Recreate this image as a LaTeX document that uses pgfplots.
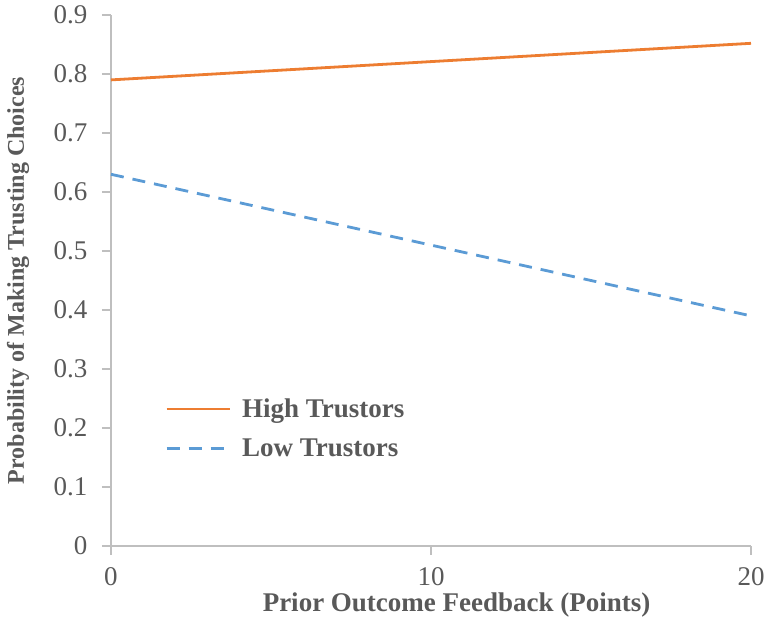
\documentclass[border=0pt]{standalone}
\usepackage{pgfplots}
\pgfplotsset{compat=1.18}
\usepackage{fontspec}
\setmainfont{Liberation Serif}
\definecolor{orangeL}{HTML}{ED7D31}
\definecolor{blueL}{HTML}{5B9BD5}
\definecolor{axgray}{HTML}{BFBFBF}
\definecolor{txtgray}{HTML}{595959}
\begin{document}
\begin{tikzpicture}
\useasboundingbox (-111pt,-90pt) rectangle (657pt,546pt);
\begin{axis}[
  scale only axis, width=640pt, height=531pt,
  xmin=0, xmax=20, ymin=0, ymax=0.9,
  xtick={0,10,20}, ytick={0,0.1,...,0.9},
  yticklabels={0,0.1,0.2,0.3,0.4,0.5,0.6,0.7,0.8,0.9},
  axis x line=bottom, axis y line=left,
  axis line style={draw=axgray, line width=1.5pt, -},
  tick style={draw=axgray, line width=1.5pt},
  major tick length=9pt,
  tick align=outside,
  /pgf/number format/assume math mode=true,
  ticklabel style={font=\fontsize{27}{32}\selectfont, text=txtgray},
  yticklabel style={xshift=-11pt},
  xticklabel style={yshift=-9pt},
  xlabel={\textbf{Prior Outcome Feedback (Points)}},
  ylabel={\textbf{Probability of Making Trusting Choices}},
  xlabel style={font=\fontsize{27}{32}\selectfont, text=txtgray, at={(axis description cs:0.54,0)}, anchor=center, yshift=-59pt},
  ylabel style={font=\fontsize{24}{28}\selectfont, text=txtgray, at={(axis description cs:-0.145,0.5)}, anchor=center},
  legend style={at={(axis cs:1.69,0.253)}, anchor=north west, draw=none, fill=none,
    font=\fontsize{27}{32}\selectfont\bfseries, text=txtgray,
    row sep=16pt, inner sep=0pt},
  legend cell align=left,
  legend image code/.code={\draw[#1] (0pt,0pt) -- (63pt,0pt); \path (72pt,0pt);},
  clip=false,
]
\addplot[orangeL, line width=2.8pt] coordinates {(0,0.79) (20,0.852)};
\addlegendentry{High Trustors}
\addplot[blueL, line width=2.8pt, dash pattern=on 13pt off 9pt] coordinates {(0,0.63) (20,0.39)};
\addlegendentry{Low Trustors}
\end{axis}
\end{tikzpicture}
\end{document}
